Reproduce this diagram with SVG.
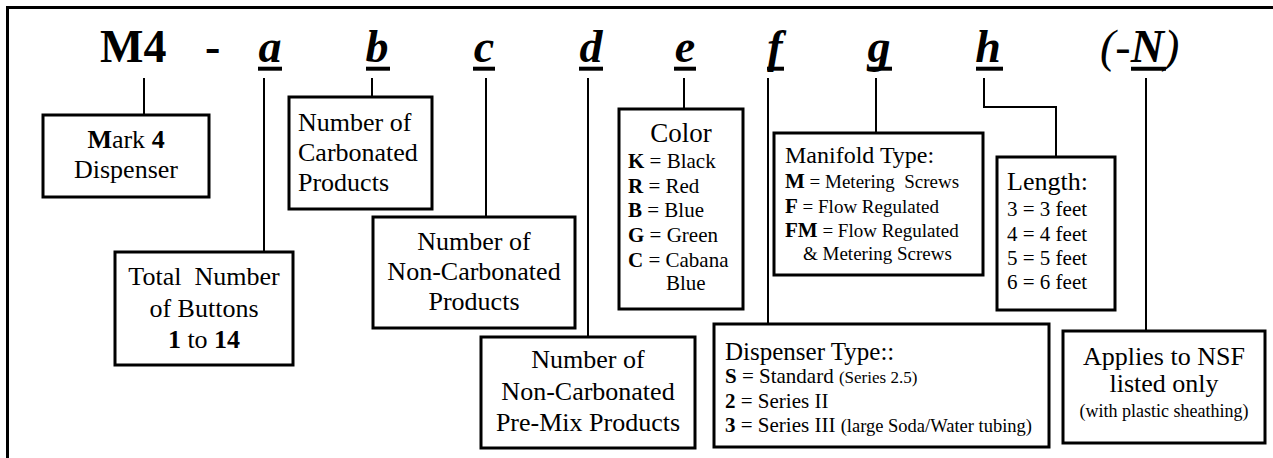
<svg xmlns="http://www.w3.org/2000/svg" width="1273" height="458" viewBox="0 0 1273 458">
<style>
text { font-family: "Liberation Serif", "Times New Roman", serif; fill: #000; }
.box { fill: #fff; stroke: #000; stroke-width: 3; }
.con { fill: none; stroke: #000; stroke-width: 2; }
.ul { stroke: #000; stroke-width: 4; }
.title { font-size: 46px; font-weight: bold; }
.let { font-size: 46px; font-weight: bold; font-style: italic; }
.t26 { font-size: 26px; }
.t21 { font-size: 21px; }
.t19 { font-size: 19px; }
.t18 { font-size: 18px; }
.t17 { font-size: 17px; }
.b { font-weight: bold; }
.mid { text-anchor: middle; }
</style>
<g id="frame">
<path d="M7.5,458 V7.5 H1273" fill="none" stroke="#000" stroke-width="3"/>
</g>
<g id="code">
<text class="title" x="100" y="62">M4</text>
<text class="title" x="205" y="62">-</text>
<text class="let mid" x="270" y="62">a</text>
<text class="let mid" x="377" y="62">b</text>
<text class="let mid" x="484" y="62">c</text>
<text class="let mid" x="591" y="62">d</text>
<text class="let mid" x="685" y="62">e</text>
<text class="let mid" x="775" y="62">f</text>
<text class="let mid" x="879" y="62">g</text>
<text class="let mid" x="988" y="62">h</text>
<text x="1100" y="62" style="font-size:46px;font-style:italic">(-<tspan font-weight="bold">N</tspan>)</text>
</g>
<g id="underlines">
<line class="ul" x1="258" y1="68.7" x2="282" y2="68.7"/>
<line class="ul" x1="366" y1="68.7" x2="390" y2="68.7"/>
<line class="ul" x1="473" y1="68.7" x2="495" y2="68.7"/>
<line class="ul" x1="579" y1="68.7" x2="603" y2="68.7"/>
<line class="ul" x1="674" y1="68.7" x2="696" y2="68.7"/>
<line class="ul" x1="767" y1="68.7" x2="784" y2="68.7"/>
<line class="ul" x1="868" y1="68.7" x2="892" y2="68.7"/>
<line class="ul" x1="976" y1="68.7" x2="1003" y2="68.7"/>
<line class="ul" x1="1131" y1="68.7" x2="1166" y2="68.7"/>
</g>
<g id="connectors">
<path class="con" d="M144,78 V115"/>
<path class="con" d="M264,78 V252"/>
<path class="con" d="M372,78 V97"/>
<path class="con" d="M486,78 V217"/>
<path class="con" d="M588,78 V337"/>
<path class="con" d="M684,78 V109"/>
<path class="con" d="M768,78 V324"/>
<path class="con" d="M876,78 V133"/>
<path class="con" d="M984,78 V107 H1056 V157"/>
<path class="con" d="M1146,78 V331"/>
</g>
<g id="node-m4">
<rect class="box" x="43" y="115" width="166" height="82"/>
<text class="t26 mid" x="126" y="148"><tspan class="b">M</tspan>ark <tspan class="b">4</tspan></text>
<text class="t26 mid" x="126" y="178">Dispenser</text>
</g>
<g id="node-a">
<rect class="box" x="115" y="252" width="178" height="113"/>
<text class="t26 mid" x="204" y="285" xml:space="preserve">Total  Number</text>
<text class="t26 mid" x="204" y="317">of Buttons</text>
<text class="t26 mid" x="204" y="348"><tspan class="b">1</tspan> to <tspan class="b">14</tspan></text>
</g>
<g id="node-b">
<rect class="box" x="289" y="97" width="143" height="112"/>
<text class="t26" x="298" y="131">Number of</text>
<text class="t26" x="298" y="161">Carbonated</text>
<text class="t26" x="298" y="191">Products</text>
</g>
<g id="node-c">
<rect class="box" x="373" y="217" width="202" height="111"/>
<text class="t26 mid" x="474" y="250">Number of</text>
<text class="t26 mid" x="474" y="280">Non-Carbonated</text>
<text class="t26 mid" x="474" y="310">Products</text>
</g>
<g id="node-d">
<rect class="box" x="481" y="337" width="214" height="111"/>
<text class="t26 mid" x="588" y="368">Number of</text>
<text class="t26 mid" x="588" y="400">Non-Carbonated</text>
<text class="t26 mid" x="588" y="431">Pre-Mix Products</text>
</g>
<g id="node-e">
<rect class="box" x="619" y="109" width="124" height="200"/>
<text class="mid" x="681" y="142" style="font-size:27px">Color</text>
<text class="t21" x="628" y="168"><tspan class="b">K</tspan> = Black</text>
<text class="t21" x="628" y="193"><tspan class="b">R</tspan> = Red</text>
<text class="t21" x="628" y="217"><tspan class="b">B</tspan> = Blue</text>
<text class="t21" x="628" y="242"><tspan class="b">G</tspan> = Green</text>
<text class="t21" x="628" y="267"><tspan class="b">C</tspan> = Cabana</text>
<text class="t21" x="666" y="290">Blue</text>
</g>
<g id="node-f">
<rect class="box" x="714" y="324" width="335" height="123"/>
<text x="725" y="360" style="font-size:25px">Dispenser Type::</text>
<text class="t21" x="725" y="383"><tspan class="b">S</tspan> = Standard <tspan class="t17">(Series 2.5)</tspan></text>
<text class="t21" x="725" y="408"><tspan class="b">2</tspan> = Series II</text>
<text class="t21" x="725" y="432"><tspan class="b">3</tspan> = Series III <tspan style="font-size:18.5px">(large Soda/Water tubing)</tspan></text>
</g>
<g id="node-g">
<rect class="box" x="774" y="133" width="209" height="142"/>
<text x="785" y="163" style="font-size:24px">Manifold Type:</text>
<text class="t19" x="785" y="188" xml:space="preserve"><tspan class="b" style="font-size:21px">M</tspan> = Metering  Screws</text>
<text class="t19" x="785" y="213"><tspan class="b" style="font-size:21px">F</tspan> = Flow Regulated</text>
<text class="t19" x="785" y="237"><tspan class="b" style="font-size:21px">FM</tspan> = Flow Regulated</text>
<text class="t19" x="803" y="260">&amp; Metering Screws</text>
</g>
<g id="node-h">
<rect class="box" x="997" y="157" width="118" height="153"/>
<text class="t26" x="1007" y="190">Length:</text>
<text class="t21" x="1007" y="216">3 = 3 feet</text>
<text class="t21" x="1007" y="241">4 = 4 feet</text>
<text class="t21" x="1007" y="265">5 = 5 feet</text>
<text class="t21" x="1007" y="289">6 = 6 feet</text>
</g>
<g id="node-n">
<rect class="box" x="1063" y="331" width="202" height="112"/>
<text class="t26 mid" x="1164" y="365">Applies to NSF</text>
<text class="t26 mid" x="1164" y="392">listed only</text>
<text class="t18 mid" x="1164" y="417">(with plastic sheathing)</text>
</g>
</svg>
